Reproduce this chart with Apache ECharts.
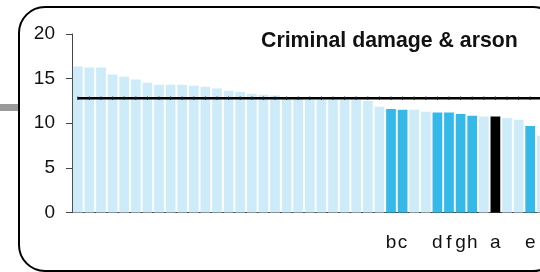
<!DOCTYPE html>
<html>
<head>
<meta charset="utf-8">
<script src="https://cdn.jsdelivr.net/npm/echarts@6/dist/echarts.min.js"></script>
<style>
  html, body { margin: 0; padding: 0; background: #fff; }
  #chart { width: 540px; height: 272px; }
</style>
</head>
<body>
<div id="chart"></div>
<script>
// category labels (only the named areas carry a letter)
const categories = [
  '', '', '', '', '', '', '', '', '', '',
  '', '', '', '', '', '', '', '', '', '',
  '', '', '', '', '', '', '', 'b', 'c', '',
  '', 'd', 'f', 'g', 'h', '', 'a', '', '', 'e',
  ''
];
// rate per area, sorted high to low
const values = [
  16.35, 16.25, 16.25, 15.45, 15.2, 14.9, 14.55, 14.3, 14.3, 14.3,
  14.2, 14.1, 13.9, 13.65, 13.5, 13.3, 13.2, 13.1, 12.95, 12.75,
  12.6, 12.6, 12.6, 12.6, 12.6, 12.5, 11.85, 11.6, 11.5, 11.5,
  11.3, 11.2, 11.2, 11.05, 10.85, 10.75, 10.75, 10.6, 10.4, 9.7,
  8.6
];
const average = 12.8;
const yTicks = [0, 5, 10, 15, 20];

const highlighted = ['b', 'c', 'd', 'f', 'g', 'h', 'e'];
const selected = ['a'];

const LIGHT = '#cdebf8';
const DARK = '#35b9e9';
const FONT = '"Liberation Sans", Arial, sans-serif';

const barData = values.map((v, i) => {
  let c = LIGHT;
  if (highlighted.indexOf(categories[i]) >= 0) c = DARK;
  if (selected.indexOf(categories[i]) >= 0) c = '#000';
  return { value: v, itemStyle: { color: c } };
});
const avgData = categories.map(() => average);

const chart = echarts.init(document.getElementById('chart'), null, { renderer: 'canvas' });
chart.setOption({
  animation: false,
  title: {
    text: 'Criminal damage & arson',
    left: 256,
    top: 26,
    textStyle: { fontFamily: FONT, fontSize: 21.3, fontWeight: 'bold', color: '#111' }
  },
  graphic: [
    {
      type: 'rect', z: -10, silent: true,
      shape: { x: 0, y: 104, width: 18, height: 7 },
      style: { fill: '#9a9a9a' }
    },
    {
      type: 'rect', z: -10, silent: true,
      shape: { x: 19, y: 7, width: 540, height: 264, r: 26 },
      style: { fill: '#fff', stroke: '#000', lineWidth: 2 }
    }
  ],
  grid: {
    left: 72, top: 34, width: categories.length * 11.6, height: 178.5,
    outerBoundsMode: 'none', containLabel: false
  },
  xAxis: {
    type: 'category',
    data: categories,
    axisTick: { show: false },
    axisLine: { lineStyle: { color: '#444', width: 1 } },
    axisLabel: { interval: 0, fontFamily: FONT, fontSize: 19, color: '#111', margin: 21 }
  },
  yAxis: {
    type: 'value',
    min: yTicks[0],
    max: yTicks[yTicks.length - 1],
    interval: 5,
    splitLine: { show: false },
    axisLine: { show: true, lineStyle: { color: '#444', width: 1 } },
    axisTick: { show: true, length: 6, lineStyle: { color: '#444' } },
    axisLabel: { fontFamily: FONT, fontSize: 19, color: '#111', margin: 17 }
  },
  series: [
    {
      type: 'bar',
      data: barData,
      barCategoryGap: '16%'
    },
    {
      type: 'line',
      data: avgData,
      lineStyle: { color: '#000', width: 2.5 },
      symbol: 'rect',
      symbolSize: [1, 3.5],
      itemStyle: { color: '#222' },
      z: 5
    }
  ]
});
</script>
</body>
</html>
